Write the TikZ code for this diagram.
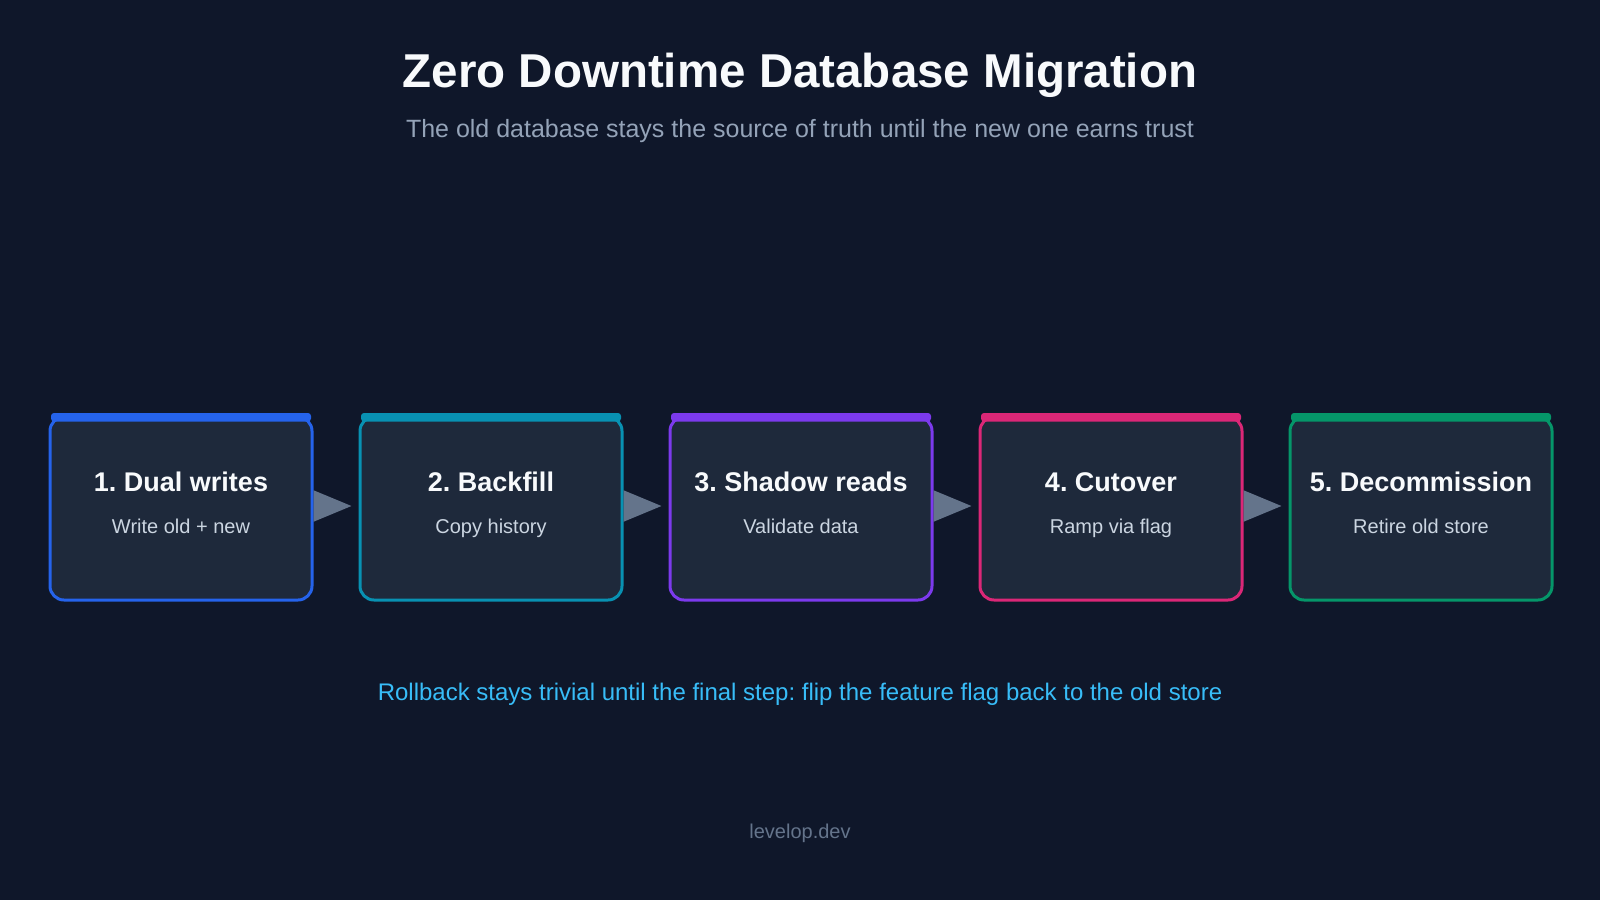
\documentclass[tikz,border=0pt]{standalone}
\usepackage{fontspec}
\setmainfont{Liberation Sans}
\usetikzlibrary{arrows.meta}
\frenchspacing
\definecolor{bg}{HTML}{0F172A}
\definecolor{boxfill}{HTML}{1E293B}
\definecolor{titlec}{HTML}{F8FAFC}
\definecolor{subc}{HTML}{94A3B8}
\definecolor{stepsub}{HTML}{CBD5E1}
\definecolor{notec}{HTML}{38BDF8}
\definecolor{footc}{HTML}{64748B}
\definecolor{arrowc}{HTML}{64748B}
\definecolor{cA}{HTML}{2563EB}
\definecolor{cB}{HTML}{0891B2}
\definecolor{cC}{HTML}{7C3AED}
\definecolor{cD}{HTML}{DB2777}
\definecolor{cE}{HTML}{059669}
\tikzset{
  stepbox/.style={draw, line width=3pt, fill=boxfill, rounded corners=14pt,
    minimum width=262pt, minimum height=183pt, inner sep=0pt},
  steptitle/.style={text=titlec, font=\fontsize{27}{31}\selectfont\bfseries, inner sep=0pt, anchor=base},
  stepsubt/.style={text=stepsub, font=\fontsize{20}{24}\selectfont, inner sep=0pt, anchor=base},
  flow/.style={draw=arrowc, line width=2pt, -{Triangle[length=38pt,width=31pt]}, shorten >=7pt},
}
\begin{document}
\begin{tikzpicture}[x=1pt,y=-1pt]
\fill[bg] (0,0) rectangle (1600,900);
\useasboundingbox (0,0) rectangle (1600,900);
\node[text=titlec, font=\fontsize{47.5}{54}\selectfont\bfseries, anchor=base, inner sep=0pt] (title) at (800,87) {Zero Downtime Database Migration};
\node[text=subc, font=\fontsize{25}{29}\selectfont, anchor=base, inner sep=0pt] (subtitle) at (800,137) {The old database stays the source of truth until the new one earns trust};
\foreach \i/\cx/\col/\t/\s in {1/181/cA/1. Dual writes/Write old + new,
                              2/491/cB/2. Backfill/Copy history,
                              3/801/cC/3. Shadow reads/Validate data,
                              4/1111/cD/4. Cutover/Ramp via flag,
                              5/1421/cE/5. Decommission/Retire old store}{
  \node[stepbox, draw=\col] (b\i) at (\cx,508.5) {};
  \fill[\col, rounded corners=3pt] (\cx-130,413) rectangle (\cx+130,421.5);
  \node[steptitle] (t\i) at (\cx,491) {\t};
  \node[stepsubt] (s\i) at (\cx,533) {\s};
}
\foreach \a/\b in {1/2,2/3,3/4,4/5}{
  \draw[flow] ([yshift=2.5pt]b\a.east) -- ([yshift=2.5pt]b\b.west);
}
\node[text=notec, font=\fontsize{24}{28}\selectfont, anchor=base, inner sep=0pt] (note) at (800,700) {Rollback stays trivial until the final step: flip the feature flag back to the old store};
\node[text=footc, font=\fontsize{20}{24}\selectfont, anchor=base, inner sep=0pt] (foot) at (800,838) {levelop.dev};
\end{tikzpicture}
\end{document}
